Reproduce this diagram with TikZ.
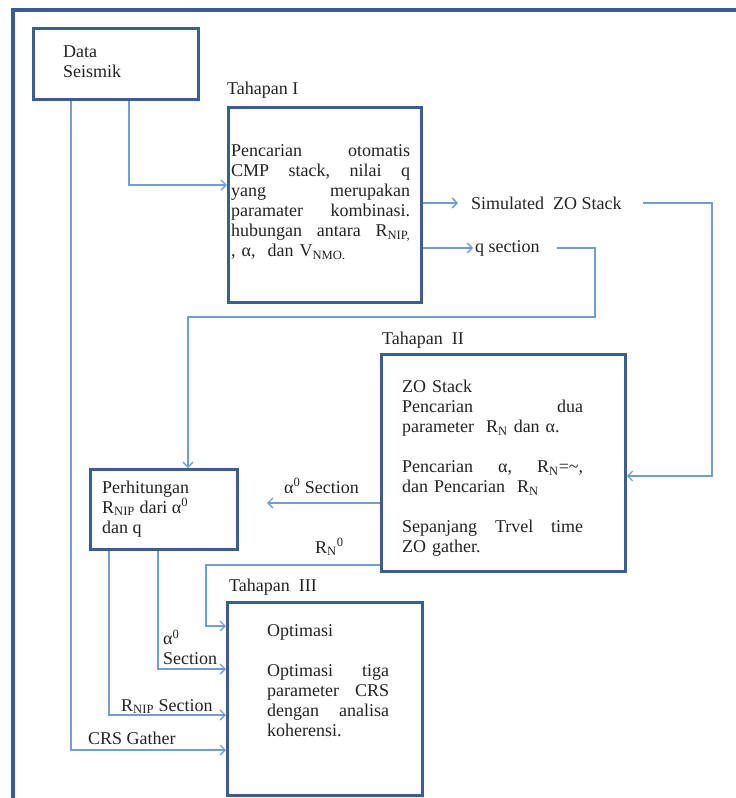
\documentclass[tikz,border=0pt]{standalone}
\usepackage{fontspec}
\setmainfont{Liberation Serif}
\usetikzlibrary{arrows.meta}
\definecolor{boxblue}{RGB}{58,94,145}
\definecolor{linkblue}{RGB}{112,157,212}
\definecolor{inkgray}{RGB}{35,35,35}
\tikzset{
  box/.style={draw=boxblue, line width=2.8pt, fill=white, inner sep=0pt, anchor=north west},
  conn/.style={draw=linkblue, line width=1.4pt},
  arr/.style={conn, -{Straight Barb[length=5pt,width=10pt,line width=1.3pt]}},
  txt/.style={inner sep=0pt, anchor=north west, text=inkgray, font=\fontsize{18}{20}\selectfont, align=left},
  lbl/.style={inner sep=0pt, anchor=west, text=inkgray, font=\fontsize{18}{20}\selectfont, text height=12pt, text depth=4pt},
}
\begin{document}
\begin{tikzpicture}[x=1pt,y=-1pt]
\useasboundingbox (0,0) rectangle (736,798);
\begin{scope}
\clip (0,0) rectangle (736,798);
\draw[draw=boxblue, line width=3.6pt] (13,810) -- (13,10) -- (750,10);
\end{scope}

% bend coordinates
\coordinate (k1) at (129,185);
\coordinate (k2) at (71,750);
\coordinate (simtip) at (458,203);
\coordinate (s1) at (643,203);
\coordinate (s2) at (712,203);
\coordinate (s3) at (712,476);
\coordinate (qtip) at (473,248);
\coordinate (q1) at (557,248);
\coordinate (q2) at (595,248);
\coordinate (q3) at (595,317);
\coordinate (q4) at (188,317);
\coordinate (atip) at (267,503);
\coordinate (r1) at (206,565);
\coordinate (r2) at (206,626);
\coordinate (a1) at (158,669);
\coordinate (n1) at (109,715);

% boxes
\node[box, minimum width=165pt, minimum height=71pt] (ds) at (32,27) {};
\node[box, minimum width=193pt, minimum height=195pt] (b1) at (227,106) {};
\node[box, minimum width=244pt, minimum height=217pt] (b2) at (380,353) {};
\node[box, minimum width=147pt, minimum height=80pt] (ph) at (89,468) {};
\node[box, minimum width=195pt, minimum height=193pt] (b3) at (226,601) {};

% connectors
\draw[arr] (ds.south -| k1) -- (k1) -- (b1.west |- k1);
\draw[arr] (ds.south -| k2) -- (k2) -- (b3.west |- k2);
\draw[arr] (b1.east |- simtip) -- (simtip);
\draw[arr] (s1) -- (s2) -- (s3) -- (b2.east |- s3);
\draw[arr] (b1.east |- qtip) -- (qtip);
\draw[arr] (q1) -- (q2) -- (q3) -- (q4) -- (ph.north -| q4);
\draw[arr] (b2.west |- atip) -- (atip);
\draw[arr] (b2.west |- r1) -- (r1) -- (r2) -- (b3.west |- r2);
\draw[arr] (ph.south -| a1) -- (a1) -- (b3.west |- a1);
\draw[arr] (ph.south -| n1) -- (n1) -- (b3.west |- n1);

% box texts
\node[txt] (dstext) at (63,45.5) {Data\\Seismik};
\node[txt, text width=179pt] (b1text) at (231,144.5) {%
Pencarian\hfill otomatis\\
CMP\hfill stack,\hfill nilai\hfill q\\
yang\hfill merupakan\\
paramater\hfill kombinasi.\\
hubungan\hfill antara\hfill R\textsubscript{NIP,}\\
, α,\ \ dan V\textsubscript{NMO.}};
\node[txt, text width=181pt] (b2text) at (402,380) {%
ZO Stack\\
Pencarian\hfill dua\\
parameter\ \ R\textsubscript{N} dan α.\\[20pt]
Pencarian\hfill α,\hfill R\textsubscript{N}=\textasciitilde,\\
dan Pencarian\ \ R\textsubscript{N}\\[20pt]
Sepanjang\hfill Trvel\hfill time\\
ZO gather.};
\node[txt] (phtext) at (102,480.5) {Perhitungan\\R\textsubscript{NIP} dari α\textsuperscript{0}\\dan q};
\node[txt, text width=122pt] (b3text) at (267,624.5) {%
Optimasi\\[20pt]
Optimasi\hfill tiga\\
parameter\hfill CRS\\
dengan\hfill analisa\\
koherensi.};

% labels
\node[lbl] (t1) at (227,90) {Tahapan I};
\node[lbl] (t2) at (382,340) {Tahapan\ \ II};
\node[lbl] (t3) at (229,587) {Tahapan\ \ III};
\node[lbl] (sim) at (471,205) {Simulated\ \ ZO Stack};
\node[lbl] (qs) at (475,248) {q section};
\node[lbl] (asec) at (284,489) {α\textsuperscript{0} Section};
\node[lbl] (rn) at (315,549) {R\textsubscript{N}\textsuperscript{0}};
\node[txt] (asec2) at (163,629.5) {α\textsuperscript{0}\\Section};
\node[lbl] (nsec) at (121,707) {R\textsubscript{NIP} Section};
\node[lbl] (crs) at (88,740) {CRS Gather};
\end{tikzpicture}
\end{document}
